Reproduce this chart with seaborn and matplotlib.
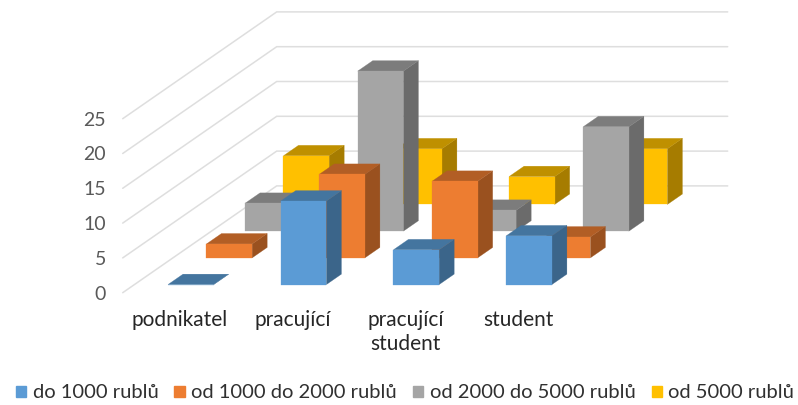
import matplotlib
matplotlib.use("Agg")
import matplotlib.pyplot as plt
from matplotlib.patches import Patch
import seaborn as sns

# Respondents by occupation and monthly income band
categories = ["podnikatel", "pracující", "pracující\nstudent", "student"]
series_names = ["do 1000 rublů", "od 1000 do 2000 rublů", "od 2000 do 5000 rublů", "od 5000 rublů"]
do_1000 = [0, 12, 5, 7]
od_1000_2000 = [2, 12, 11, 3]
od_2000_5000 = [4, 23, 3, 15]
od_5000 = [7, 8, 4, 8]
series_values = [do_1000, od_1000_2000, od_2000_5000, od_5000]
y_ticks = [0, 5, 10, 15, 20, 25]

front_colors = sns.color_palette(["#5B9BD5", "#ED7D31", "#A5A5A5", "#FFC000"])
top_colors = sns.color_palette(["#44759F", "#B25E25", "#7C7C7C", "#BF9000"])
side_colors = sns.color_palette(["#3B658A", "#9A511F", "#6B6B6B", "#A67C00"])

sns.set_theme(style="white")
plt.rcParams["font.family"] = ["Lato", "DejaVu Sans"]

fig = plt.figure(figsize=(7.98, 4.05), dpi=100)
ax = fig.add_axes([0, 0, 1, 1])
ax.set_xlim(0, 798)
ax.set_ylim(405, 0)
ax.axis("off")

# Oblique projection: category position, series depth and value to canvas pixels
ORIGIN_X, ORIGIN_Y = 122.7, 292.7
CAT_STEP = 112.75
DEPTH_DX, DEPTH_DY = 38.5, -26.7
VALUE_STEP = 6.96
BAR_WIDTH = 0.405
BAR_DEPTH = 0.39


def project(cat, depth, value):
    return (ORIGIN_X + cat * CAT_STEP + depth * DEPTH_DX,
            ORIGIN_Y + depth * DEPTH_DY - value * VALUE_STEP)


# Side wall and back wall gridlines
n_cat, n_ser = len(categories), len(series_names)
for tick in y_ticks:
    pts = [project(0, 0, tick), project(0, n_ser, tick), project(n_cat, n_ser, tick)]
    ax.plot(*zip(*pts), color="#DEDEDE", lw=1.1, solid_joinstyle="miter", zorder=1)
    x, y = project(0, 0, tick)
    ax.text(x - 16.5, y + 1.5, str(tick), ha="right", va="center", fontsize=14, color="#595959")


def draw_bar(cat, ser, value):
    x0 = cat + (1 - BAR_WIDTH) / 2
    x1 = x0 + BAR_WIDTH
    d0 = ser + (1 - BAR_DEPTH) / 2
    d1 = d0 + BAR_DEPTH
    front = [project(x0, d0, 0), project(x1, d0, 0), project(x1, d0, value), project(x0, d0, value)]
    side = [project(x1, d0, 0), project(x1, d1, 0), project(x1, d1, value), project(x1, d0, value)]
    top = [project(x0, d0, value), project(x1, d0, value), project(x1, d1, value), project(x0, d1, value)]
    for poly, col in ((side, side_colors[ser]), (top, top_colors[ser]), (front, front_colors[ser])):
        ax.fill(*zip(*poly), facecolor=col, edgecolor=col, lw=0.2, zorder=2)


# Paint from the rear series forward so nearer bars cover farther ones
for ser in reversed(range(n_ser)):
    for cat in range(n_cat):
        draw_bar(cat, ser, series_values[ser][cat])

for cat, label in enumerate(categories):
    x, _ = project(cat + 0.5, 0, 0)
    ax.text(x + 1, 309.5, label, ha="center", va="top", fontsize=15, color="#262626", linespacing=1.25)

handles = [Patch(facecolor=c, edgecolor=c) for c in front_colors]
ax.legend(handles, series_names, loc="center", bbox_to_anchor=(405, 393), bbox_transform=ax.transData,
          ncol=4, frameon=False, fontsize=14.5, handlelength=0.5, handleheight=0.5, handletextpad=0.33,
          columnspacing=0.8, labelcolor="#303030", borderpad=0, borderaxespad=0)

fig.savefig("out.png", dpi=100)
